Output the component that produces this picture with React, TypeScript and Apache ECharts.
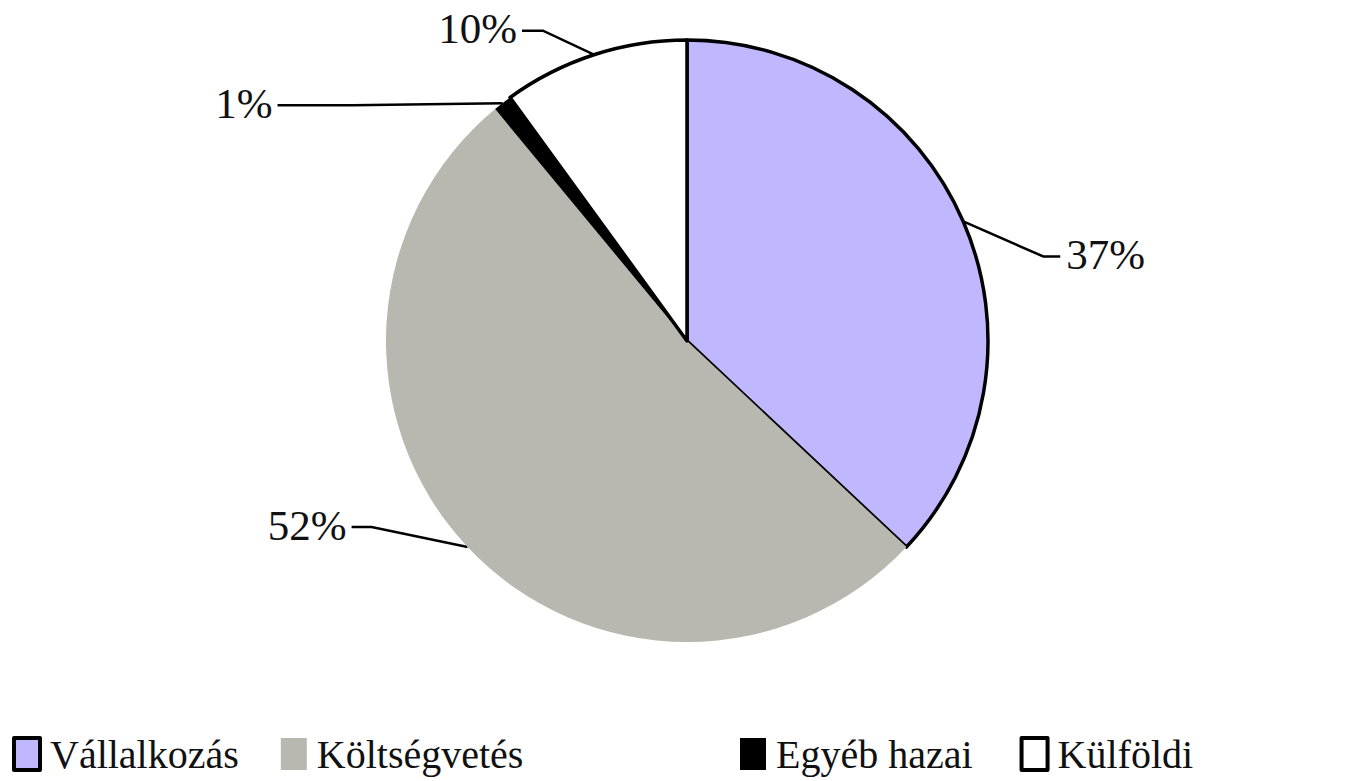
import React, { useEffect, useRef } from "react";
import * as echarts from "echarts";

const categories = ["Vállalkozás", "Költségvetés", "Egyéb hazai", "Külföldi"];
const values = [37, 52, 1, 10];
const colors = ["#C0B8FF", "#B8B7B0", "#000000", "#FFFFFF"];
const borderWidths = [3.5, 0, 0, 3.5];
// label leader geometry: bend offset from slice edge, horizontal tail length
const bendDX = [80, -96, -150, -51];
const bendDY = [35, -20, 2, -24];
const tails = [17, 20, 75, 21];

const CX = 687;
const CY = 341;
const R = 301;
const FONT = "'Liberation Serif', 'Times New Roman', serif";

export default function App() {
  const ref = useRef<HTMLDivElement>(null);
  useEffect(() => {
    if (!ref.current) return;
    const chart = echarts.init(ref.current, null, { renderer: "svg" });
    const total = values.reduce((a, b) => a + b, 0);
    const data = categories.map((name, i) => ({
      name,
      value: values[i],
      itemStyle: {
        color: colors[i],
        borderColor: "#000",
        borderWidth: borderWidths[i],
      },
    }));
    const legendItems = categories.map((name, i) => ({
      name,
      itemStyle: {
        color: colors[i],
        borderColor: "#000",
        borderWidth: borderWidths[i] > 0 ? 4 : 0,
      },
    }));
    const legendCommon = {
      orient: "horizontal" as const,
      top: 734,
      padding: 0,
      icon: "rect",
      itemWidth: 26,
      itemHeight: 32,
      textStyle: {
        fontFamily: FONT,
        fontSize: 40,
        color: "#111",
        padding: [0, 0, 0, 5],
      },
      selectedMode: false,
    };
    chart.setOption({
      animation: false,
      backgroundColor: "#fff",
      legend: [
        { ...legendCommon, left: 12, itemGap: 42, data: legendItems.slice(0, 2) },
        { ...legendCommon, left: 740, itemGap: 47, data: legendItems.slice(2) },
      ],
      series: [
        {
          type: "pie",
          center: [CX, CY],
          radius: R,
          startAngle: 90,
          clockwise: true,
          data,
          label: {
            show: true,
            position: "outside",
            formatter: "{c}%",
            fontFamily: FONT,
            fontSize: 43,
            color: "#111",
          },
          labelLine: {
            show: true,
            lineStyle: { color: "#000", width: 2.5 },
          },
          emphasis: { disabled: true },
          labelLayout: (params: any) => {
            const i = params.dataIndex;
            let cum = 0;
            for (let k = 0; k < i; k++) cum += values[k];
            const mid = ((cum + values[i] / 2) / total) * Math.PI * 2;
            const p0 = [CX + R * Math.sin(mid), CY - R * Math.cos(mid)];
            const elbow = [p0[0] + bendDX[i], p0[1] + bendDY[i]];
            const right = bendDX[i] > 0;
            const end = [elbow[0] + (right ? tails[i] : -tails[i]), elbow[1]];
            return {
              x: end[0] + (right ? 6 : -5),
              y: end[1] - 2,
              align: right ? "left" : "right",
              verticalAlign: "middle",
              labelLinePoints: [p0, elbow, end],
            };
          },
        },
      ],
    });
    return () => chart.dispose();
  }, []);
  return (
    <div
      ref={ref}
      style={{ position: "fixed", left: 0, top: 0, width: 1350, height: 781 }}
    />
  );
}
